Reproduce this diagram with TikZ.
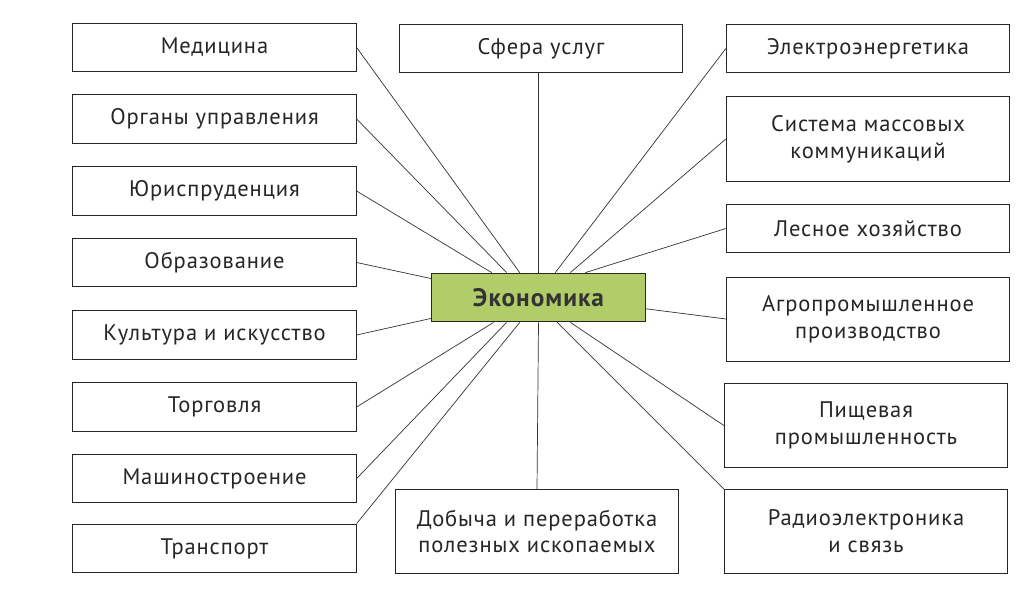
\documentclass[tikz,border=0pt]{standalone}
\usepackage{fontspec}
\setmainfont{PT Sans}[LetterSpace=4]
\definecolor{ecogreen}{RGB}{178,204,106}
\begin{document}
\begin{tikzpicture}[x=0.025cm, y=-0.025cm,
    sector/.style={draw=black!85, line width=0.7pt, fill=white, minimum width=7.08cm,
      minimum height=1.22cm, align=center, text=black!85,
      font=\fontsize{16}{19}\selectfont},
    tall/.style={sector, minimum height=2.1cm},
    link/.style={draw=black!80, line width=0.5pt}]
  \useasboundingbox[fill=white] (0,0) rectangle (1024,604);

  \node[sector] (med) at (214.5,47.5) {Медицина};
  \node[sector] (org) at (214.5,119) {Органы управления};
  \node[sector] (jur) at (214.5,191) {Юриспруденция};
  \node[sector] (edu) at (214.5,262.5) {Образование};
  \node[sector] (cul) at (214.5,335) {Культура и искусство};
  \node[sector] (trd) at (214.5,407) {Торговля};
  \node[sector] (mash) at (214.5,478.5) {Машиностроение};
  \node[sector] (trn) at (214.5,548.5) {Транспорт};

  \node[sector] (serv) at (541,48.5) {Сфера услуг};
  \node[tall] (dob) at (537,531.5) {Добыча и переработка\\полезных ископаемых};

  \node[sector] (elec) at (868,48.5) {Электроэнергетика};
  \node[tall] (smk) at (868,139) {Система массовых\\коммуникаций};
  \node[sector] (les) at (868,228.5) {Лесное хозяйство};
  \node[tall] (agro) at (868,319) {Агропромышленное\\производство};
  \node[tall] (food) at (866,425.5) {Пищевая\\промышленность};
  \node[tall] (radio) at (866,531.5) {Радиоэлектроника\\и связь};

  \node[draw=black!85, line width=0.7pt, fill=ecogreen, minimum width=5.33cm,
    minimum height=1.22cm, text=black!80,
    font=\fontsize{18}{20}\selectfont\bfseries] (eco) at (538.5,297.5) {Экономика};

  \draw[link] (med.east) -- (eco.127);
  \draw[link] (org.east) -- (eco.142);
  \draw[link] (jur.east) -- (eco.152);
  \draw[link] (edu.east) -- (eco.170);
  \draw[link] (cul.east) -- (eco.191);
  \draw[link] (trd.east) -- (eco.209);
  \draw[link] (mash.east) -- (eco.218);
  \draw[link] (trn.north east) -- (eco.233);
  \draw[link] (serv.south -| eco.north) -- (eco.north);
  \draw[link] (eco.south) -- (dob.north);
  \draw[link] (elec.west) -- (eco.56);
  \draw[link] (smk.west) -- (eco.38);
  \draw[link] (les.west) -- (eco.28);
  \draw[link] (agro.west) -- (eco.354);
  \draw[link] (food.west) -- (eco.322);
  \draw[link] (radio.north west) -- (eco.307);
\end{tikzpicture}
\end{document}
